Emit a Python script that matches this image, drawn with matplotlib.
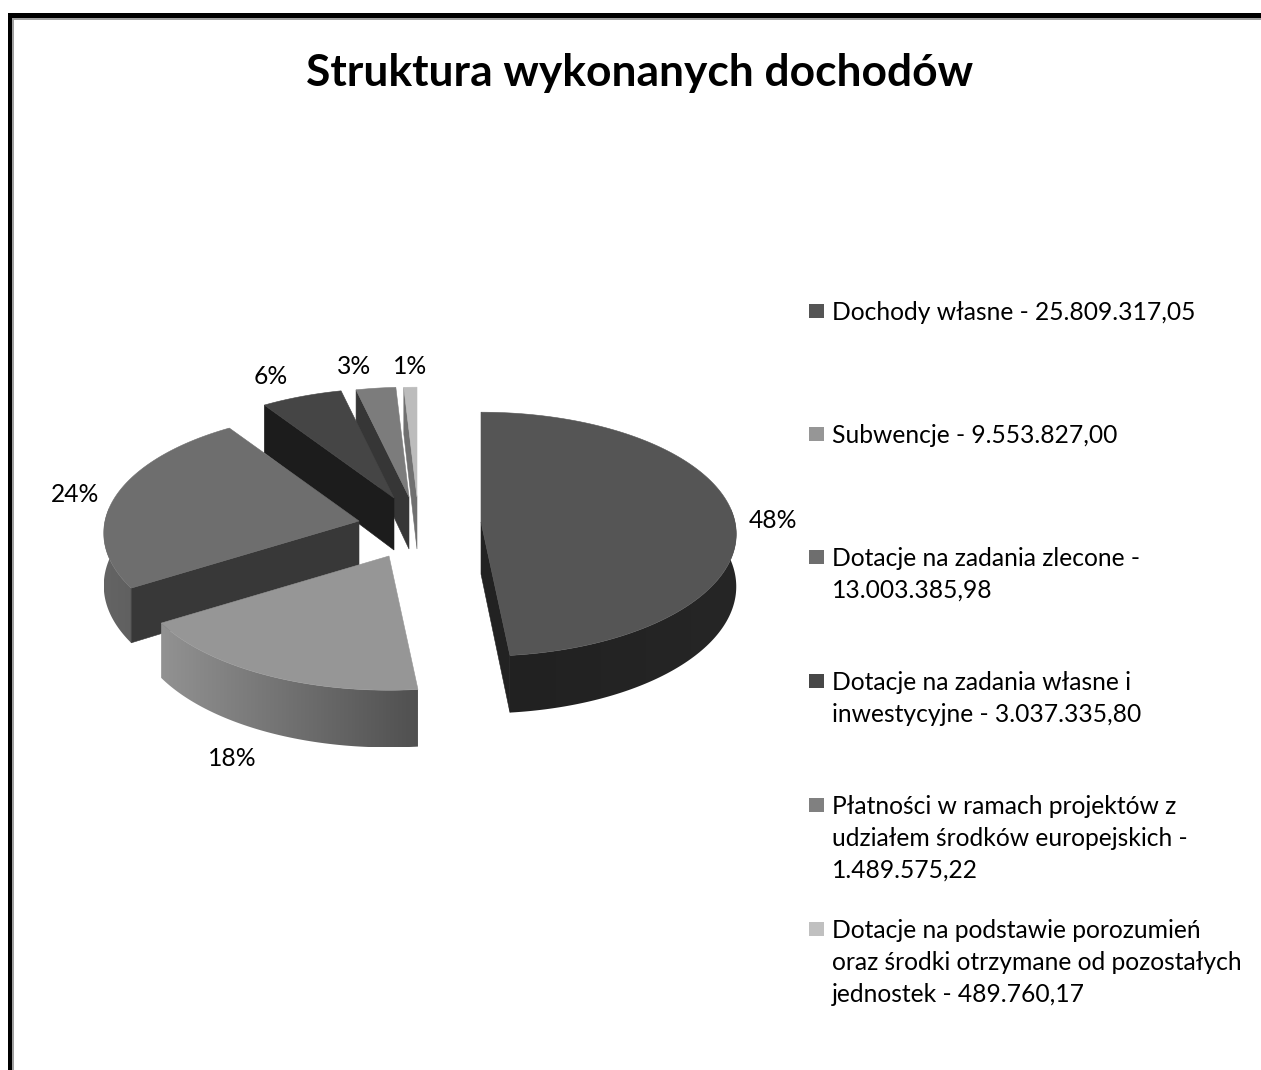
import numpy as np
import matplotlib
matplotlib.use("Agg")
import matplotlib.pyplot as plt
from matplotlib.patches import Polygon, Rectangle

title = "Struktura wykonanych dochodów"
values = [25809317.05, 9553827.00, 13003385.98, 3037335.80, 1489575.22, 489760.17]
legend_lines = [
    ["Dochody własne - 25.809.317,05"],
    ["Subwencje - 9.553.827,00"],
    ["Dotacje na zadania zlecone -", "13.003.385,98"],
    ["Dotacje na zadania własne i", "inwestycyjne - 3.037.335,80"],
    ["Płatności w ramach projektów z", "udziałem środków europejskich -", "1.489.575,22"],
    ["Dotacje na podstawie porozumień", "oraz środki otrzymane od pozostałych", "jednostek - 489.760,17"],
]

# layout and style
W, H = 1261, 1070
centers = [(481, 522), (389, 556), (359, 521), (394, 498), (409, 497), (417, 497)]
top_col = ["#555555", "#969696", "#6e6e6e", "#454545", "#7c7c7c", "#bcbcbc"]
cut_col = ["#222222", "#555555", "#383838", "#1c1c1c", "#363636", "#707070"]
show_a0 = [True, False, True, True, True, True]
show_a1 = [True, False, False, False, False, False]
rim_left = ["#212121", "#929292", "#646464", "#1c1c1c", "#363636", "#707070"]
rim_right = ["#262626", "#505050", "#606060", "#1c1c1c", "#363636", "#707070"]
leg_col = ["#555555", "#969696", "#6e6e6e", "#474747", "#808080", "#c0c0c0"]
label_pos = [(773, 521), (232, 758), (75, 494), (271, 377), (354, 367), (410, 367)]
leg_y = [311, 434, 557, 681, 805, 929]
RX, RY, K, DEPTH = 254, 122, 0.1, 52
LINE = 32
TEXT_DY = 1.5
FONT = ["Lato", "DejaVu Sans"]
FS = 17.7

fig = plt.figure(figsize=(W / 100, H / 100), dpi=100, facecolor="white")
ax = fig.add_axes([0, 0, 1, 1])

# frame
ax.add_patch(Rectangle((8, 13), W, 5, fc="black", ec="none"))
ax.add_patch(Rectangle((8, 13), 4, H, fc="black", ec="none"))
ax.add_patch(Rectangle((12, 18), W, 2, fc="#a0a0a0", ec="none"))
ax.add_patch(Rectangle((12, 18), 1.5, H, fc="#a0a0a0", ec="none"))


def pt(c, th, z=0.0):
    u, v = np.sin(th), -np.cos(th)
    s = 1 + K * v
    return np.column_stack([c[0] + RX * u * s, c[1] + RY * v * s + z * DEPTH * s])


def apex(c, z=0.0):
    return np.array([[c[0], c[1] + z * DEPTH]])


fracs = np.array(values) / np.sum(values)
edges = np.concatenate([[0], np.cumsum(fracs)]) * 2 * np.pi


def fill(xy, color, z):
    ax.add_patch(Polygon(xy, closed=True, fc=color, ec=color, lw=0.4, zorder=z))


for n, i in enumerate([5, 4, 3, 2, 0, 1]):
    c = centers[i]
    a0, a1 = edges[i], edges[i + 1]
    base = 2 + n * 3
    # outer rim, only the part facing the viewer, shaded left to right
    lo, hi = max(a0, np.radians(84)), min(a1, np.radians(276))
    if hi > lo:
        ths = np.linspace(lo, hi, 120)
        rim = np.vstack([pt(c, ths), pt(c, ths[::-1], 1)])
        x0, x1 = rim[:, 0].min(), rim[:, 0].max()
        y0, y1 = rim[:, 1].min(), rim[:, 1].max()
        cmap = matplotlib.colors.LinearSegmentedColormap.from_list("r", [rim_left[i], rim_right[i]])
        im = ax.imshow(np.linspace(0, 1, 256)[None, :], cmap=cmap, extent=(x0, x1, y1, y0),
                       aspect="auto", zorder=base, interpolation="bilinear")
        clip = Polygon(rim, closed=True, transform=ax.transData)
        im.set_clip_path(clip)
    # cut faces
    for a, show in ((a0, show_a0[i]), (a1, show_a1[i])):
        if show:
            e = np.array([a])
            fill(np.vstack([apex(c), pt(c, e), pt(c, e, 1), apex(c, 1)]), cut_col[i], base + 1)
    # top
    ths = np.linspace(a0, a1, 200)
    fill(np.vstack([apex(c), pt(c, ths)]), top_col[i], base + 2)

for f, p in zip(fracs, label_pos):
    ax.text(p[0], p[1], f"{round(f * 100)}%", ha="center", va="center",
            family=FONT, fontsize=FS, color="black", zorder=40)

for lines, y, col in zip(legend_lines, leg_y, leg_col):
    ax.add_patch(Rectangle((809, y - 7), 15, 14, fc=col, ec="none"))
    for k, s in enumerate(lines):
        ax.text(832, y + k * LINE + TEXT_DY, s, ha="left", va="center",
                family=FONT, fontsize=FS, color="black", zorder=40)

ax.text(640, 73, title, ha="center", va="center", family=FONT,
        fontweight="bold", fontsize=31.9, color="black")

ax.set_xlim(0, W)
ax.set_ylim(H, 0)
ax.axis("off")
fig.savefig("out.png", dpi=100, facecolor="white")
